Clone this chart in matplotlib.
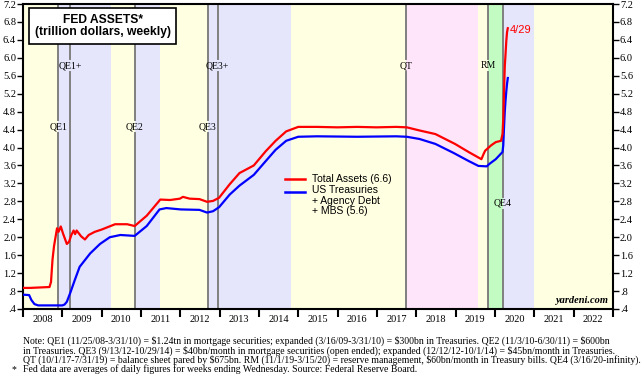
import matplotlib
matplotlib.use("Agg")
import matplotlib.pyplot as plt
import matplotlib.dates as mdates
import matplotlib.ticker as mticker
import pandas as pd

plt.rcParams["font.family"] = ["Liberation Serif", "DejaVu Serif"]

# Total assets (trillion $)
total_dates = [
    "2008-01-02", "2008-03-05", "2008-06-04", "2008-09-03", "2008-09-17", "2008-10-01",
    "2008-10-15", "2008-11-05", "2008-11-12", "2008-11-26", "2008-12-17", "2009-01-07",
    "2009-02-11", "2009-03-04", "2009-03-25", "2009-04-15", "2009-04-29", "2009-05-13",
    "2009-06-24", "2009-07-29", "2009-09-02", "2009-10-28", "2009-12-30", "2010-03-03",
    "2010-05-05", "2010-08-25", "2010-11-03", "2011-02-23", "2011-06-29", "2011-09-28",
    "2011-12-28", "2012-01-25", "2012-03-28", "2012-06-27", "2012-09-05", "2012-10-31",
    "2012-12-26", "2013-04-03", "2013-07-03", "2013-11-13", "2014-03-05", "2014-06-04",
    "2014-09-10", "2014-12-31", "2015-06-24", "2015-12-30", "2016-06-29", "2016-12-28",
    "2017-06-28", "2017-10-04", "2018-01-31", "2018-06-27", "2018-12-26", "2019-05-01",
    "2019-08-28", "2019-09-18", "2019-10-02", "2019-11-27", "2020-01-08", "2020-02-26",
    "2020-03-11", "2020-03-18", "2020-03-25", "2020-04-01", "2020-04-08", "2020-04-15",
    "2020-04-22", "2020-04-29",
]
total_assets = [
    0.87, 0.87, 0.88, 0.89, 1.00, 1.50,
    1.80, 2.10, 2.20, 2.12, 2.24, 2.08,
    1.85, 1.90, 2.05, 2.15, 2.07, 2.15,
    2.02, 1.95, 2.05, 2.12, 2.17, 2.23,
    2.29, 2.29, 2.25, 2.48, 2.84, 2.83,
    2.86, 2.90, 2.86, 2.85, 2.79, 2.81,
    2.88, 3.18, 3.43, 3.60, 3.92, 4.15,
    4.36, 4.46, 4.46, 4.45, 4.46, 4.45,
    4.46, 4.45, 4.38, 4.30, 4.08, 3.90,
    3.74, 3.86, 3.93, 4.05, 4.12, 4.15,
    4.30, 4.63, 5.25, 5.81, 6.08, 6.37,
    6.57, 6.66,
]

# US Treasuries + agency debt + MBS (trillion $)
secs_dates = [
    "2008-01-02", "2008-02-27", "2008-03-19", "2008-04-16", "2008-05-21", "2008-12-31",
    "2009-01-21", "2009-02-11", "2009-03-18", "2009-04-22", "2009-06-10", "2009-09-16",
    "2009-12-16", "2010-03-17", "2010-06-23", "2010-11-03", "2011-02-23", "2011-06-22",
    "2011-08-24", "2012-01-04", "2012-06-27", "2012-09-05", "2012-10-31", "2012-12-26",
    "2013-04-03", "2013-07-03", "2013-11-13", "2014-03-05", "2014-06-04", "2014-09-10",
    "2014-12-31", "2015-06-24", "2016-06-29", "2017-06-28", "2017-10-04", "2018-01-31",
    "2018-06-27", "2018-12-12", "2019-05-01", "2019-07-31", "2019-10-16", "2019-11-13",
    "2020-01-08", "2020-03-11", "2020-03-18", "2020-03-25", "2020-04-01", "2020-04-08",
    "2020-04-15", "2020-04-22", "2020-04-29",
]
secs_held = [
    0.72, 0.71, 0.60, 0.51, 0.48, 0.48,
    0.50, 0.56, 0.78, 1.02, 1.34, 1.64,
    1.85, 2.00, 2.05, 2.03, 2.25, 2.62,
    2.65, 2.62, 2.61, 2.55, 2.58, 2.67,
    2.95, 3.15, 3.39, 3.70, 3.95, 4.15,
    4.24, 4.25, 4.24, 4.25, 4.24, 4.19,
    4.08, 3.88, 3.70, 3.59, 3.58, 3.64,
    3.74, 3.90, 4.05, 4.45, 4.80, 5.05,
    5.25, 5.42, 5.55,
]

# policy regimes: shaded spans
span_starts = ["2008-01-01", "2008-11-25", "2010-03-31", "2010-11-03", "2011-06-30", "2012-09-13",
               "2014-10-29", "2017-10-01", "2019-07-31", "2019-11-01", "2020-03-16", "2021-01-01"]
span_ends = ["2008-11-25", "2010-03-31", "2010-11-03", "2011-06-30", "2012-09-13", "2014-10-29",
             "2017-10-01", "2019-07-31", "2019-11-01", "2020-03-16", "2021-01-01", "2023-01-01"]
span_kinds = ["none", "qe", "none", "qe", "none", "qe", "none", "qt", "none", "rm", "qe", "none"]
SPAN_COLORS = {"none": "#FFFFE2", "qe": "#E5E5FB", "qt": "#FFE5FA", "rm": "#C2FCC2"}

# event markers
event_dates = ["2008-11-25", "2009-03-16", "2010-11-03", "2012-09-13", "2012-12-12",
               "2017-10-01", "2019-11-01", "2020-03-16"]
event_names = ["QE1", "QE1+", "QE2", "QE3", "QE3+", "QT", "RM", "QE4"]
event_label_y = [4.46, 5.82, 4.46, 4.46, 5.82, 5.82, 5.82, 2.76]

YMIN, YMAX = 0.4, 7.2

fig = plt.figure(figsize=(6.41, 3.83), dpi=100)
ax = fig.add_axes([23 / 641, 74 / 383, 590 / 641, 305 / 383])

for s, e, k in zip(span_starts, span_ends, span_kinds):
    ax.axvspan(pd.Timestamp(s), pd.Timestamp(e), color=SPAN_COLORS[k], lw=0, zorder=0)

gap = 0.021
for d, name, ly in zip(event_dates, event_names, event_label_y):
    t = pd.Timestamp(d)
    f = (ly - YMIN) / (YMAX - YMIN)
    ax.axvline(t, ymin=0, ymax=f - gap, color="#808080", lw=1.4, zorder=1)
    ax.axvline(t, ymin=f + gap, ymax=1, color="#808080", lw=1.4, zorder=1)
    ax.text(t, ly, name, ha="center", va="center", fontsize=7, zorder=4)

ax.plot(pd.to_datetime(secs_dates), secs_held, color="#0000FF", lw=1.6, zorder=3)
ax.plot(pd.to_datetime(total_dates), total_assets, color="#FF0000", lw=1.6, zorder=3)

ax.text(pd.Timestamp(total_dates[-1]) + pd.Timedelta(days=20), total_assets[-1] - 0.05, "4/29",
        color="#FF0000", fontsize=8, family="Liberation Sans", va="center", ha="left")

# legend drawn by hand so the blue handle sits on the first text line
sans = "Liberation Sans"
ax.plot([0.444, 0.478], [0.426, 0.426], color="#FF0000", lw=1.8, transform=ax.transAxes)
ax.plot([0.444, 0.478], [0.384, 0.384], color="#0000FF", lw=1.8, transform=ax.transAxes)
ax.text(0.490, 0.426, "Total Assets (6.6)", transform=ax.transAxes, fontsize=7.5,
        family=sans, va="center")
ax.text(0.490, 0.405, "US Treasuries\n+ Agency Debt\n+ MBS (5.6)", transform=ax.transAxes,
        fontsize=7.5, family=sans, va="top", linespacing=1.05)

ax.text(0.135, 0.928, "FED ASSETS*\n(trillion dollars, weekly)", transform=ax.transAxes,
        fontsize=8.7, fontweight="bold", family=sans, ha="center", va="center",
        linespacing=1.1,
        bbox=dict(boxstyle="square,pad=0.45", facecolor="white", edgecolor="black", lw=1.2))

ax.text(0.992, 0.012, "yardeni.com", transform=ax.transAxes, fontsize=7.5,
        fontweight="bold", style="italic", ha="right", va="bottom")

ax.set_xlim(pd.Timestamp("2008-01-01"), pd.Timestamp("2023-01-01"))
ax.set_ylim(YMIN, YMAX)

ax.xaxis.set_major_locator(mdates.YearLocator())
ax.xaxis.set_major_formatter(mticker.NullFormatter())
ax.xaxis.set_minor_locator(mdates.MonthLocator(bymonth=7, bymonthday=1))
ax.xaxis.set_minor_formatter(mdates.DateFormatter("%Y"))
ax.tick_params(axis="x", which="major", length=6, width=1.5, direction="out")
ax.tick_params(axis="x", which="minor", length=0, labelsize=7.5, pad=4)

ax.yaxis.set_major_locator(mticker.MultipleLocator(0.4))
ax.yaxis.set_major_formatter(mticker.FuncFormatter(
    lambda v, _: f"{v:.1f}".lstrip("0") if v < 1 else f"{v:.1f}"))
ax.tick_params(axis="y", left=True, right=True, labelleft=True, labelright=True,
               length=4, width=1, labelsize=7.5, pad=1)

for sp in ax.spines.values():
    sp.set_linewidth(1.5)

notes = [
    "Note: QE1 (11/25/08-3/31/10) = \\$1.24tn in mortgage securities; expanded (3/16/09-3/31/10) = "
    "\\$300bn in Treasuries. QE2 (11/3/10-6/30/11) = \\$600bn",
    "in Treasuries. QE3 (9/13/12-10/29/14) = \\$40bn/month in mortgage securities (open ended); "
    "expanded (12/12/12-10/1/14) = \\$45bn/month in Treasuries.",
    "QT (10/1/17-7/31/19) = balance sheet pared by \\$675bn. RM (11/1/19-3/15/20) = reserve "
    "management, \\$60bn/month in Treasury bills. QE4 (3/16/20-infinity).",
    "Fed data are averages of daily figures for weeks ending Wednesday. Source: Federal Reserve Board.",
]
note_y = [341, 350.5, 360, 369.5]
for txt, y in zip(notes, note_y):
    fig.text(23 / 641, 1 - y / 383, txt, fontsize=7, va="center", ha="left")
fig.text(12 / 641, 1 - note_y[-1] / 383, "*", fontsize=7, va="center", ha="left")

fig.savefig("out.png", dpi=100)
plt.close(fig)
